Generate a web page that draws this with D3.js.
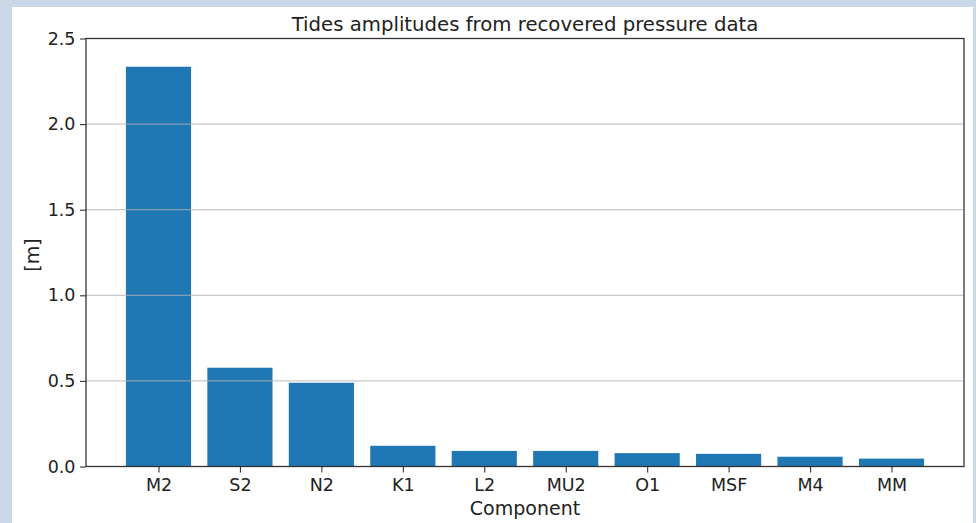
<!DOCTYPE html>
<html>
<head>
<meta charset="utf-8">
<script src="https://d3js.org/d3.v7.min.js"></script>
<style>
  body { margin: 0; background: #c9d7e7; }
  svg { display: block; font-family: "DejaVu Sans", sans-serif; }
</style>
</head>
<body>
<div id="chart"></div>
<script>
const components = ["M2", "S2", "N2", "K1", "L2", "MU2", "O1", "MSF", "M4", "MM"];
const amplitudes = [2.335, 0.577, 0.489, 0.121, 0.091, 0.091, 0.078, 0.074, 0.057, 0.046];
const yTicks = [0.0, 0.5, 1.0, 1.5, 2.0, 2.5];

const W = 976, H = 523;
const axLeft = 86, axRight = 964, axTop = 38.5, axBottom = 466.5;

const svg = d3.select("#chart").append("svg")
  .attr("width", W)
  .attr("height", H);

// white figure panel
svg.append("rect")
  .attr("x", 12).attr("y", 7)
  .attr("width", 961).attr("height", H - 7)
  .attr("fill", "#ffffff");

// matplotlib-like x range: bars of width 0.8 plus 5% margin
const xScale = d3.scaleLinear()
  .domain([-0.89, components.length - 1 + 0.89])
  .range([axLeft, axRight]);
const yScale = d3.scaleLinear()
  .domain([0, 2.5])
  .range([axBottom, axTop]);

const bw = xScale(0.8) - xScale(0);

svg.selectAll("rect.bar")
  .data(amplitudes)
  .enter()
  .append("rect")
  .attr("class", "bar")
  .attr("x", (d, i) => xScale(i - 0.4))
  .attr("y", d => yScale(d))
  .attr("width", bw)
  .attr("height", d => yScale(0) - yScale(d))
  .attr("fill", "#1f77b4");

// horizontal grid drawn over the bars
svg.append("g")
  .selectAll("line")
  .data(yTicks.slice(1, -1))
  .enter()
  .append("line")
  .attr("x1", axLeft).attr("x2", axRight)
  .attr("y1", d => yScale(d)).attr("y2", d => yScale(d))
  .attr("stroke", "rgba(176,176,176,0.7)")
  .attr("stroke-width", 1.2);

// axes
const yAxis = d3.axisLeft(yScale)
  .tickValues(yTicks)
  .tickFormat(d3.format(".1f"))
  .tickSize(6)
  .tickPadding(4.5);
const xAxis = d3.axisBottom(xScale)
  .tickValues(d3.range(components.length))
  .tickFormat(i => components[i])
  .tickSize(6)
  .tickPadding(6);

const gy = svg.append("g")
  .attr("transform", "translate(" + axLeft + ",0)")
  .call(yAxis);
const gx = svg.append("g")
  .attr("transform", "translate(0," + axBottom + ")")
  .call(xAxis);

[gx, gy].forEach(g => {
  g.select(".domain").remove();
  g.selectAll("line").attr("stroke", "#333").attr("stroke-width", 1.1);
  g.selectAll("text")
    .attr("fill", "#222")
    .style("font-family", "'DejaVu Sans', sans-serif")
    .style("font-size", "17.5px");
});

// frame
svg.append("rect")
  .attr("x", axLeft).attr("y", axTop)
  .attr("width", axRight - axLeft).attr("height", axBottom - axTop)
  .attr("fill", "none")
  .attr("stroke", "#333")
  .attr("stroke-width", 1.3);

// title
svg.append("text")
  .attr("x", (axLeft + axRight) / 2)
  .attr("y", 31)
  .attr("text-anchor", "middle")
  .attr("fill", "#222")
  .style("font-size", "19.7px")
  .text("Tides amplitudes from recovered pressure data");

// x label
svg.append("text")
  .attr("x", (axLeft + axRight) / 2)
  .attr("y", 515)
  .attr("text-anchor", "middle")
  .attr("fill", "#222")
  .style("font-size", "19px")
  .text("Component");

// y label
svg.append("text")
  .attr("transform", "translate(39,255) rotate(-90)")
  .attr("text-anchor", "middle")
  .attr("fill", "#222")
  .style("font-size", "19px")
  .text("[m]");
</script>
</body>
</html>
